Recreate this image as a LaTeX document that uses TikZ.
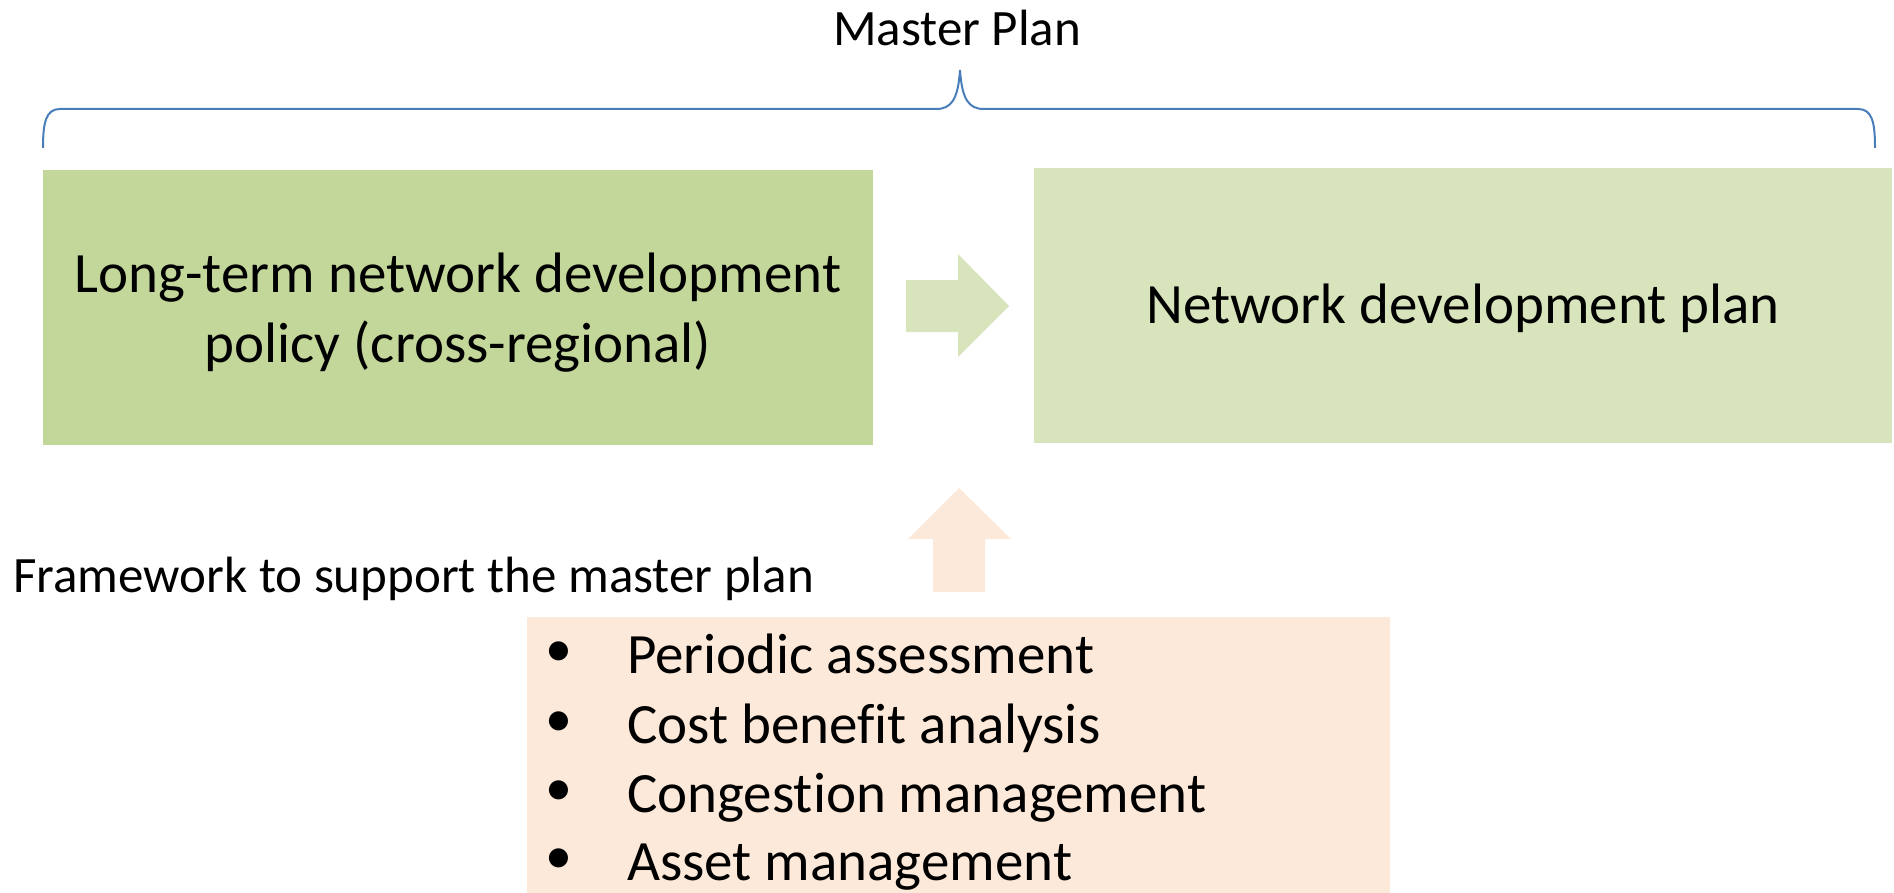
\documentclass[tikz,border=0pt]{standalone}
\usepackage{fontspec}
\setmainfont{Carlito}[Ligatures=NoCommon]
\definecolor{boxA}{HTML}{C4D79B}
\definecolor{boxB}{HTML}{D8E4BC}
\definecolor{boxC}{HTML}{FDE9D9}
\definecolor{brace}{HTML}{4A7EBB}
\tikzset{
  panel/.style={fill=#1, draw=none, inner sep=0pt, anchor=north west},
  bigtxt/.style={font=\fontsize{57}{69}\selectfont, inner sep=0pt, anchor=base},
  bultxt/.style={font=\fontsize{54}{64}\selectfont, inner sep=0pt, anchor=center},
  midtxt/.style={font=\fontsize{51}{62}\selectfont, inner sep=0pt},
}
\begin{document}
\begin{tikzpicture}[x=1pt,y=-1pt]
\useasboundingbox (0,0) rectangle (1894,893);
% title and brace
\node[midtxt, anchor=base] (mp) at (957,46) {Master Plan};
\draw[brace, line width=2pt]
  (43,148) .. controls (43,122) and (46,109) .. (60,109) -- (936,109)
  .. controls (951,109) and (958,100) .. (960,70)
  .. controls (962,100) and (969,109) .. (984,109) -- (1858,109)
  .. controls (1872,109) and (1875,122) .. (1875,148);
% boxes
\node[panel=boxA, minimum width=830pt, minimum height=275pt] (lt) at (43,170) {};
\node[panel=boxB, minimum width=858pt, minimum height=275pt] (nd) at (1034,168) {};
\node[panel=boxC, minimum width=863pt, minimum height=276pt] (fw) at (527,617) {};
% texts in boxes
\node[bigtxt] (lt1) at (458,292) {Long-term network development};
\node[bigtxt] (lt2) at (458,362) {policy (cross-regional)};
\node[bigtxt] (nd1) at (1463,323) {Network development plan};
% right arrow
\fill[boxB] (906,280) -- (958,280) -- (958,254) -- (1009,306) -- (958,357) -- (958,332) -- (906,332) -- cycle;
% up arrow
\fill[boxC] (933,592) -- (933,539) -- (908,539) -- (959,488) -- (1011,539) -- (985,539) -- (985,592) -- cycle;
% framework label
\node[midtxt, anchor=base west] (fwl) at (13,592) {Framework to support the master plan};
% bullets
\foreach \y/\t [count=\i] in {673/Periodic assessment, 743/Cost benefit analysis, 812/Congestion management, 880/Asset management}{
  \node[bultxt] (b\i) at (559,\y-19) {•};
  \node[bigtxt, anchor=base west] (t\i) at (627,\y) {\t};
}
\end{tikzpicture}
\end{document}
